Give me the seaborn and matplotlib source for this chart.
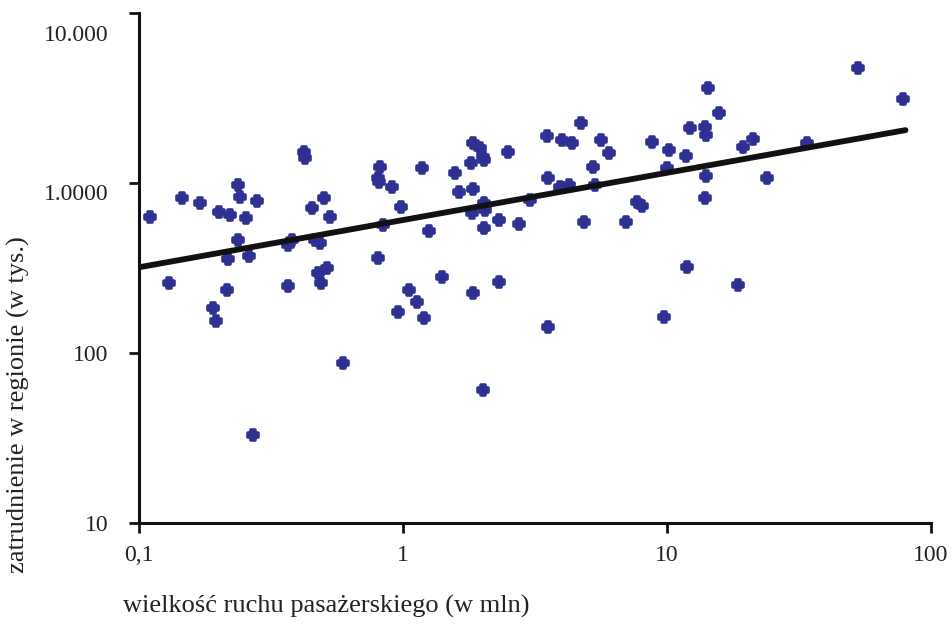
import numpy as np
import pandas as pd
import matplotlib
matplotlib.use("Agg")
import matplotlib.pyplot as plt
import matplotlib.transforms as mtransforms
import seaborn as sns

# passenger traffic (mln) vs. employment in region (thousands), log-log
traffic = [
    0.11, 0.13, 0.145, 0.17, 0.20, 0.22, 0.19, 0.195, 0.215, 0.237,
    0.24, 0.28, 0.255, 0.237, 0.217, 0.26, 0.27, 0.365, 0.42, 0.425,
    0.45, 0.50, 0.53, 0.365, 0.38, 0.465, 0.485, 0.475, 0.515, 0.49,
    0.59, 0.82, 0.80, 0.81, 0.91, 0.98, 0.80, 0.96, 1.05, 0.84,
    1.18, 1.57, 1.8, 1.84, 1.96, 2.0, 2.02, 2.5, 1.63, 1.84,
    2.02, 1.82, 2.05, 2.3, 2.03, 2.75, 1.25, 3.03, 3.5, 3.55,
    4.0, 4.37, 4.7, 5.6, 6.0, 5.25, 3.93, 4.25, 5.35, 4.85,
    7.0, 7.7, 8.0, 8.8, 1.4, 1.13, 1.2, 1.84, 2.3, 3.55,
    2.0, 53, 78, 14.3, 15.7, 12.2, 13.9, 14.1, 10.2, 11.8,
    10.0, 19.4, 21.2, 34, 14.1, 13.9, 24, 11.9, 18.6, 9.75,
]
employment = [
    630, 260, 820, 760, 680, 650, 185, 155, 235, 970,
    830, 780, 620, 460, 360, 375, 33, 248, 1520, 1400,
    710, 815, 630, 430, 460, 462, 445, 295, 316, 258,
    87, 1240, 1070, 1010, 950, 720, 362, 174, 235, 566,
    1225, 1145, 1310, 1720, 1600, 1420, 1365, 1520, 885, 920,
    760, 665, 693, 605, 543, 574, 522, 794, 1890, 1070,
    1790, 1720, 2250, 1790, 1500, 1240, 947, 973, 973, 590,
    590, 773, 733, 1740, 280, 200, 161, 225, 262, 142,
    61, 4750, 3120, 3620, 2580, 2110, 2135, 1915, 1560, 1440,
    1225, 1630, 1815, 1720, 1100, 816, 1070, 320, 251, 163,
]

# trend line end points
trend_x = [0.1, 80]
trend_y = [320, 2050]

x_ticks = [0.1, 1, 10, 100]
x_labels = ["0,1", "1", "10", "100"]
y_ticks = [10, 100, 1000, 10000]
y_labels = ["10", "100", "1.0000", "10.000"]

df = pd.DataFrame({"traffic": traffic, "employment": employment})
trend = pd.DataFrame({"x": trend_x, "y": trend_y})

sns.set_style("ticks")
plt.rcParams["font.family"] = ["Liberation Serif", "DejaVu Serif"]

fig = plt.figure(figsize=(9.53, 6.25), dpi=100)
ax = fig.add_axes([0.146, 0.163, 0.831, 0.816])

# blobby crosses: filled plus with a thick edge of the same colour
sns.scatterplot(data=df, x="traffic", y="employment", ax=ax,
                marker="P", s=50, color="#2e3192", edgecolor="#2e3192",
                linewidth=2.6, zorder=2)
sns.lineplot(data=trend, x="x", y="y", ax=ax, color="#111111",
             linewidth=4.2, zorder=3)

ax.set_xscale("log")
ax.set_yscale("log")
ax.set_xlim(0.1, 100)
ax.set_ylim(10, 10000)
ax.set_xticks(x_ticks)
ax.set_xticklabels(x_labels)
ax.set_yticks(y_ticks)
ax.set_yticklabels(y_labels)
ax.minorticks_off()
ax.set_xlabel("")
ax.set_ylabel("")

sns.despine(ax=ax)
for side in ["left", "bottom"]:
    ax.spines[side].set_linewidth(2.2)
    ax.spines[side].set_color("#111111")
ax.tick_params(axis="both", length=7, width=2, colors="#111111",
               labelsize=17, labelcolor="#222222")
ax.tick_params(axis="y", pad=15)
ax.tick_params(axis="x", pad=9)

# the top and second y labels sit a bit below their ticks in the original
ylabs = ax.get_yticklabels()
for lab, dy in [(ylabs[-1], -20), (ylabs[-2], -9)]:
    lab.set_transform(lab.get_transform() +
                      mtransforms.ScaledTranslation(0, dy / 100, fig.dpi_scale_trans))

fig.text(0.019, 0.352, "zatrudnienie w regionie (w tys.)", rotation=90,
         ha="center", va="center", fontsize=19, color="#222222")
fig.text(0.129, 0.029, "wielkość ruchu pasażerskiego (w mln)",
         ha="left", va="center", fontsize=19, color="#222222")

fig.savefig("out.png", dpi=100)
